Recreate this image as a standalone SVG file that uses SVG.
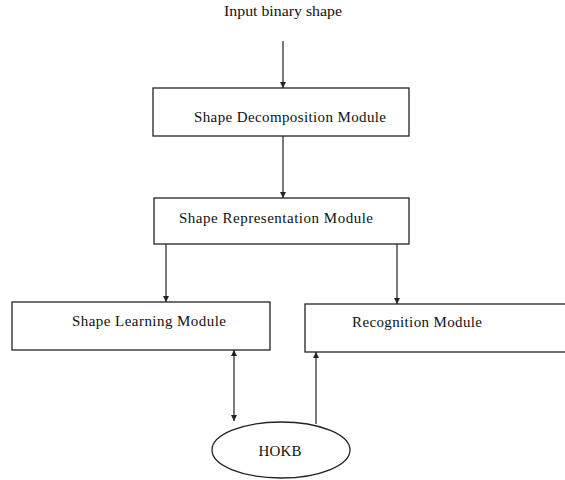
<svg xmlns="http://www.w3.org/2000/svg" width="565" height="480" viewBox="0 0 565 480">
<style>
.box{fill:#fff;stroke:#222;stroke-width:1.3}
.lbl{font-family:"Liberation Serif","Times New Roman",serif;font-size:15px;fill:#111;text-anchor:middle}
.con{stroke:#222;stroke-width:1.2;fill:none}
</style>
<defs>
<marker id="ah" viewBox="0 0 10 10" refX="10" refY="5" markerWidth="6" markerHeight="6" orient="auto-start-reverse" markerUnits="userSpaceOnUse">
<path d="M0,0 L10,5 L0,10 z" fill="#222"/>
</marker>
</defs>
<rect width="565" height="480" fill="#fff"/>
<g id="input">
<text class="lbl" x="283" y="16" textLength="118" lengthAdjust="spacingAndGlyphs">Input binary shape</text>
</g>
<g id="decomposition">
<rect class="box" x="153" y="88" width="256" height="48"/>
<text class="lbl" x="290" y="122" textLength="192" lengthAdjust="spacing">Shape Decomposition Module</text>
</g>
<g id="representation">
<rect class="box" x="154" y="198" width="255" height="46"/>
<text class="lbl" x="276" y="223" textLength="194" lengthAdjust="spacing">Shape Representation Module</text>
</g>
<g id="learning">
<rect class="box" x="12" y="302" width="258" height="48"/>
<text class="lbl" x="149" y="326" textLength="154" lengthAdjust="spacing">Shape Learning Module</text>
</g>
<g id="recognition">
<rect class="box" x="305" y="304" width="270" height="48"/>
<text class="lbl" x="417" y="327" textLength="130" lengthAdjust="spacing">Recognition Module</text>
</g>
<g id="hokb">
<ellipse class="box" cx="281" cy="450" rx="69" ry="28"/>
<text class="lbl" x="280" y="456" textLength="43" lengthAdjust="spacing">HOKB</text>
</g>
<g id="connectors">
<line class="con" x1="283" y1="41" x2="283" y2="88" marker-end="url(#ah)"/>
<line class="con" x1="283" y1="136" x2="283" y2="198" marker-end="url(#ah)"/>
<line class="con" x1="166" y1="244" x2="166" y2="302" marker-end="url(#ah)"/>
<line class="con" x1="397" y1="244" x2="397" y2="304" marker-end="url(#ah)"/>
<line class="con" x1="234" y1="350" x2="234" y2="421" marker-start="url(#ah)" marker-end="url(#ah)"/>
<line class="con" x1="316" y1="424" x2="316" y2="352" marker-end="url(#ah)"/>
</g>
</svg>
